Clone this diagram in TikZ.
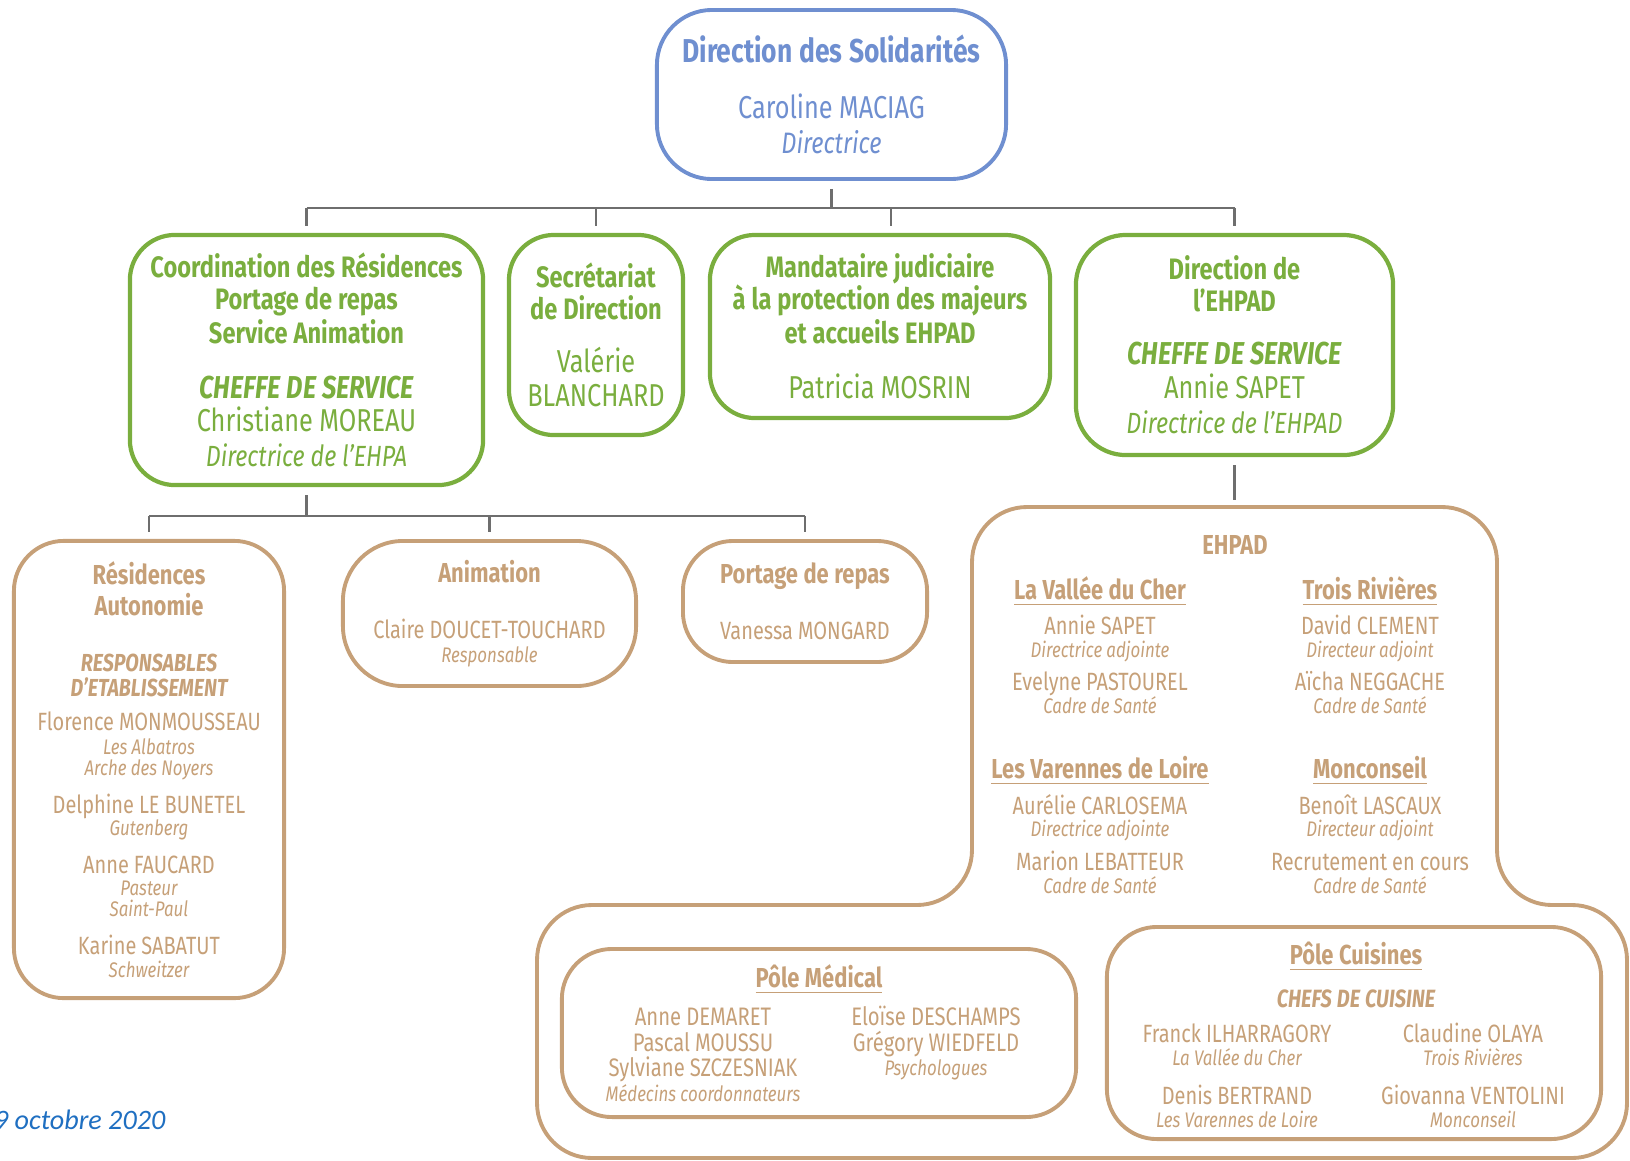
\documentclass[tikz,border=0pt]{standalone}
\usepackage{fontspec}
\setmainfont[FakeStretch=0.8]{Fira Sans}
\newfontfamily\datefont{Carlito}

\definecolor{solblue}{HTML}{6F8FD0}
\definecolor{solgreen}{HTML}{7AAE3E}
\definecolor{soltan}{HTML}{C6A078}
\definecolor{linkgray}{HTML}{6E6E6E}
\definecolor{dateblue}{HTML}{1F6FC1}

\newdimen\px \px=0.28453pt
\setlength{\lineskiplimit}{-20pt}
% one line of a box: size (pt), distance to previous baseline (px), text
\newcommand\tline[3]{{\fontsize{#1}{#2\px}\selectfont\spaceskip=0.2em\relax\noindent #3\par}}

\tikzset{
  box/.style={rounded corners=0.5cm, line width=1.1pt, align=center, inner sep=0pt},
  topbox/.style={box, draw=solblue, text=solblue, rounded corners=0.55cm},
  greenbox/.style={box, draw=solgreen, text=solgreen, line width=1.2pt, rounded corners=0.45cm},
  tanbox/.style={box, draw=soltan, text=soltan},
  tancol/.style={text=soltan, align=center, inner sep=0pt, text width=3cm, anchor=base},
  link/.style={draw=linkgray, line width=0.7pt},
}

\begin{document}
\begin{tikzpicture}[x=0.01cm, y=-0.01cm]
\useasboundingbox (0,0) rectangle (1630,1160);

% direction
\node[topbox, text width=3.49cm, minimum height=1.69cm] (dirsol) at (831.5,94.5) {
  \tline{9.4}{0}{\bfseries Direction des Solidarités}
  \tline{9}{56}{Caroline MACIAG}
  \tline{8.4}{35}{\itshape Directrice}};

% services
\node[greenbox, text width=3.53cm, minimum height=2.5cm] (coord) at (306.5,360) {
  \tline{8.4}{0}{\bfseries Coordination des Résidences}
  \tline{8.4}{32}{\bfseries Portage de repas}
  \tline{8.4}{30}{\bfseries Service Animation}
  \tline{9}{55}{\bfseries\itshape CHEFFE DE SERVICE}
  \tline{9}{33}{Christiane MOREAU}
  \tline{8.3}{35}{\itshape Directrice de l’EHPA}};
\node[greenbox, text width=1.74cm, minimum height=2cm] (secr) at (596,335) {
  \tline{8.4}{0}{\bfseries Secrétariat}
  \tline{8.4}{32}{\bfseries de Direction}
  \tline{9}{53}{Valérie}
  \tline{9}{34}{BLANCHARD}};
\node[greenbox, text width=3.4cm, minimum height=1.83cm] (mand) at (880,326.5) {
  \tline{8.4}{0}{\bfseries Mandataire judiciaire}
  \tline{8.4}{32}{\bfseries à la protection des majeurs}
  \tline{8.4}{30}{\bfseries et accueils EHPAD}
  \tline{9}{55}{Patricia MOSRIN}};
\node[greenbox, text width=3.17cm, minimum height=2.2cm, rounded corners=0.5cm] (direhpad) at (1234.5,345) {
  \tline{8.4}{0}{\bfseries Direction de}
  \tline{8.4}{32}{\bfseries l’EHPAD}
  \tline{9}{53}{\bfseries\itshape CHEFFE DE SERVICE}
  \tline{9}{34}{Annie SAPET}
  \tline{8.3}{35}{\itshape Directrice de l’EHPAD}};

\draw[link] ([yshift=-0.08cm]dirsol.south) -- ++(0,19) coordinate (bus);
\draw[link] (coord.north |- bus) -- (direhpad.north |- bus);
\foreach \n in {coord,secr,direhpad}
  \draw[link] (\n.north |- bus) -- ([yshift=0.07cm]\n.north);
\coordinate (mandtop) at ([xshift=0.11cm,yshift=0.07cm]mand.north);
\draw[link] (mandtop |- bus) -- (mandtop);

% residences, animation, portage
\node[tanbox, text width=2.7cm, minimum height=4.57cm] (resid) at (149,769.5) {
  \tline{7.8}{0}{\bfseries Résidences}
  \tline{7.8}{31}{\bfseries Autonomie}
  \tline{7}{56}{\bfseries\itshape RESPONSABLES}
  \tline{7}{25}{\bfseries\itshape D’ETABLISSEMENT}
  \tline{7.1}{34}{Florence MONMOUSSEAU}
  \tline{6}{24}{\itshape Les Albatros}
  \tline{6}{21}{\itshape Arche des Noyers}
  \tline{7.1}{38}{Delphine LE BUNETEL}
  \tline{6}{22}{\itshape Gutenberg}
  \tline{7.1}{38}{Anne FAUCARD}
  \tline{6}{22}{\itshape Pasteur}
  \tline{6}{21}{\itshape Saint-Paul}
  \tline{7.1}{38}{Karine SABATUT}
  \tline{6}{23}{\itshape Schweitzer}};
\node[tanbox, text width=2.93cm, minimum height=1.45cm, rounded corners=0.6cm] (anim) at (489.5,613.5) {
  \tline{7.8}{0}{\bfseries Animation}
  \tline{7.1}{56}{Claire DOUCET-TOUCHARD}
  \tline{6}{24}{\itshape Responsable}};
\node[tanbox, text width=2.44cm, minimum height=1.21cm] (portage) at (805,601.5) {
  \tline{7.8}{0}{\bfseries Portage de repas}
  \tline{7.1}{56}{Vanessa MONGARD}};

\draw[link] ([yshift=-0.08cm]coord.south) -- ++(0,21) coordinate (bus2);
\draw[link] (resid.north |- bus2) -- (portage.north |- bus2);
\foreach \n in {resid,anim,portage}
  \draw[link] (\n.north |- bus2) -- ([yshift=0.07cm]\n.north);

% ehpad
\draw[soltan, line width=1.1pt, rounded corners=0.55cm] (537,1158) -- (537,905) -- (972,905) -- (972,507)
  -- (1497,507) -- (1497,905) -- (1627,905) -- (1627,1158) -- cycle;
\coordinate (ehpadtop) at (1234.5,507);
\draw[link] ([yshift=-0.08cm]direhpad.south) -- ([yshift=0.07cm]ehpadtop);

\node[tancol, font=\bfseries\fontsize{7.8}{9}\selectfont] (ehpadtitle) at (1235,554) {EHPAD};
\node[tancol] (vallee) at (1100,599) {
  \tline{7.8}{0}{\bfseries\underline{La Vallée du Cher}}
  \tline{7.1}{35}{Annie SAPET}
  \tline{6}{23}{\itshape Directrice adjointe}
  \tline{7.1}{33}{Evelyne PASTOUREL}
  \tline{6}{23}{\itshape Cadre de Santé}};
\node[tancol] (rivieres) at (1370,599) {
  \tline{7.8}{0}{\bfseries\underline{Trois Rivières}}
  \tline{7.1}{35}{David CLEMENT}
  \tline{6}{23}{\itshape Directeur adjoint}
  \tline{7.1}{33}{Aïcha NEGGACHE}
  \tline{6}{23}{\itshape Cadre de Santé}};
\node[tancol] (varennes) at (1100,778) {
  \tline{7.8}{0}{\bfseries\underline{Les Varennes de Loire}}
  \tline{7.1}{36}{Aurélie CARLOSEMA}
  \tline{6}{22}{\itshape Directrice adjointe}
  \tline{7.1}{34}{Marion LEBATTEUR}
  \tline{6}{23}{\itshape Cadre de Santé}};
\node[tancol] (monconseil) at (1370,778) {
  \tline{7.8}{0}{\bfseries\underline{Monconseil}}
  \tline{7.1}{36}{Benoît LASCAUX}
  \tline{6}{22}{\itshape Directeur adjoint}
  \tline{7.1}{34}{Recrutement en cours}
  \tline{6}{23}{\itshape Cadre de Santé}};

% poles
\node[tanbox, text width=5.14cm, minimum height=1.68cm] (medical) at (819,1033) {};
\node[tancol] (medtitle) at (819,987) {\tline{7.8}{0}{\bfseries\underline{Pôle Médical}}};
\node[tancol] (medleft) at (703,1025) {
  \tline{7.2}{0}{Anne DEMARET}
  \tline{7.2}{26}{Pascal MOUSSU}
  \tline{7.2}{25}{Sylviane SZCZESNIAK}
  \tline{6}{22}{\itshape Médecins coordonnateurs}};
\node[tancol] (medright) at (936,1025) {
  \tline{7.2}{0}{Eloïse DESCHAMPS}
  \tline{7.2}{26}{Grégory WIEDFELD}
  \tline{6}{21}{\itshape Psychologues}};

\node[tanbox, text width=4.94cm, minimum height=2.12cm] (cuisines) at (1354,1033) {};
\node[tancol] (cuistitle) at (1356,964) {
  \tline{7.8}{0}{\bfseries\underline{Pôle Cuisines}}
  \tline{7.1}{43}{\bfseries\itshape CHEFS DE CUISINE}};
\node[tancol] (cuisleft) at (1237,1042) {
  \tline{7.1}{0}{Franck ILHARRAGORY}
  \tline{6}{23}{\itshape La Vallée du Cher}
  \tline{7.1}{39}{Denis BERTRAND}
  \tline{6}{23}{\itshape Les Varennes de Loire}};
\node[tancol] (cuisright) at (1473,1042) {
  \tline{7.1}{0}{Claudine OLAYA}
  \tline{6}{23}{\itshape Trois Rivières}
  \tline{7.1}{39}{Giovanna VENTOLINI}
  \tline{6}{23}{\itshape Monconseil}};

\node[anchor=base east, inner sep=0pt, text=dateblue, font=\datefont\itshape\fontsize{8}{10}\selectfont] (date) at (166,1129) {9 octobre 2020};
\end{tikzpicture}
\end{document}
